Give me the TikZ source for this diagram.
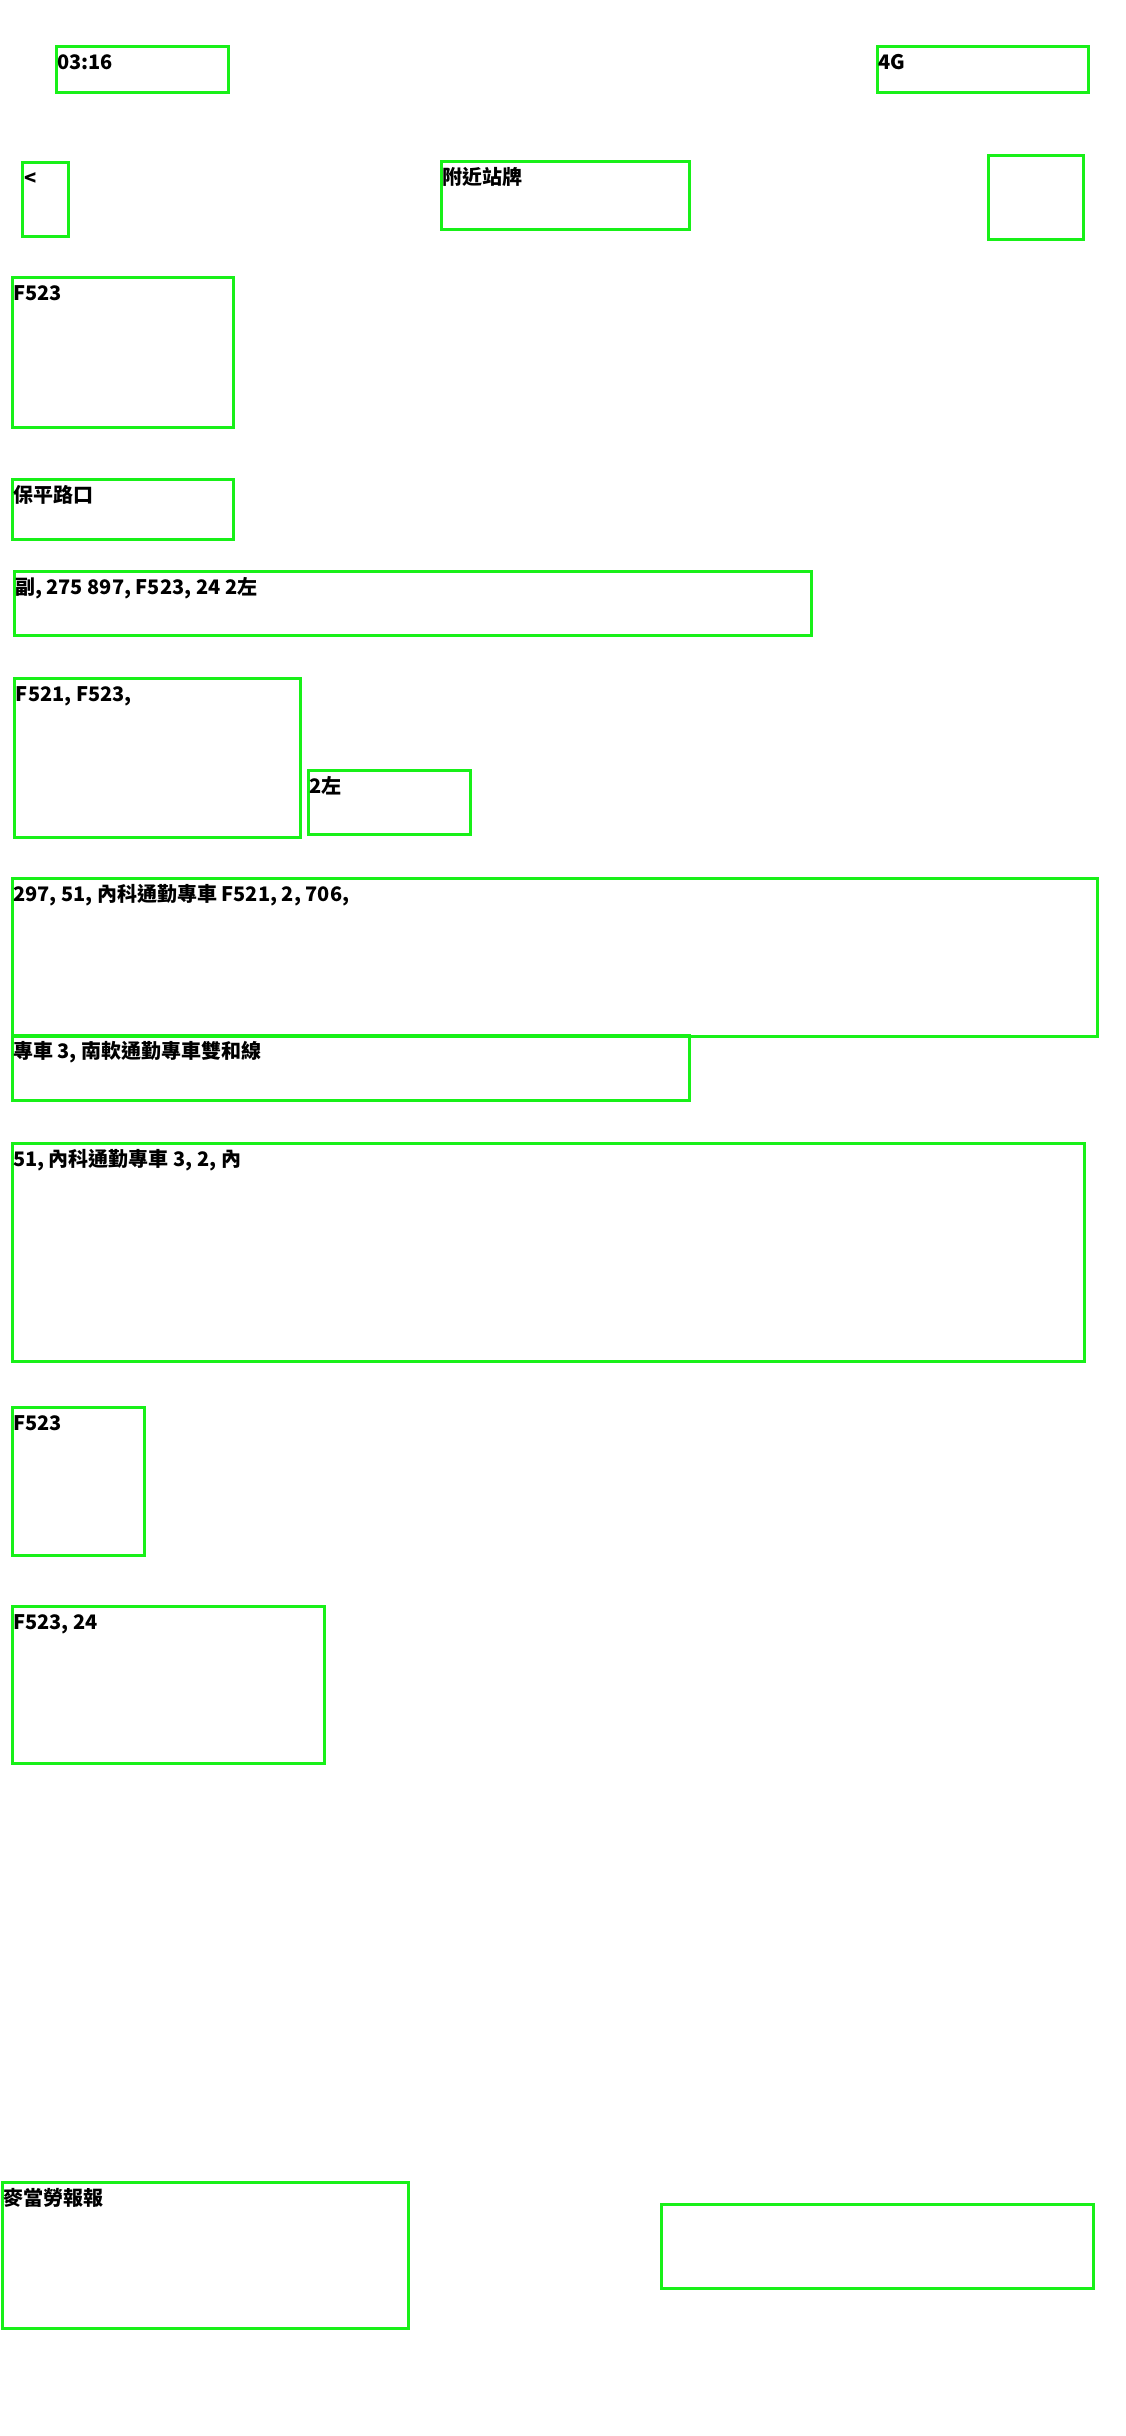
\documentclass[tikz,border=0pt]{standalone}
\usepackage{fontspec}
\setmainfont{Noto Sans CJK TC}
\definecolor{boxgreen}{RGB}{24,240,24}
\tikzset{
  box/.style={draw=boxgreen, line width=3pt, inner sep=0pt, outer sep=0pt, anchor=north west},
  lbl/.style={font=\bfseries\fontsize{20}{24}\selectfont, inner sep=0pt, outer sep=0pt, anchor=base west, text=black},
}
\begin{document}
\begin{tikzpicture}[x=1pt,y=-1pt]
\useasboundingbox[fill=white] (0,0) rectangle (1125,2436);
% boxes
\node[box, minimum width=172pt, minimum height=46pt] (clock) at (56,46) {};
\node[box, minimum width=211pt, minimum height=46pt] (net) at (877,46) {};
\node[box, minimum width=46pt, minimum height=74pt] (back) at (22,162) {};
\node[box, minimum width=248pt, minimum height=68pt] (title) at (441,161) {};
\node[box, minimum width=95pt, minimum height=84pt] (icon) at (988,155) {};
\node[box, minimum width=221pt, minimum height=150pt] (routeA) at (12,277) {};
\node[box, minimum width=221pt, minimum height=60pt] (stop) at (12,479) {};
\node[box, minimum width=797pt, minimum height=64pt] (listA) at (14,571) {};
\node[box, minimum width=286pt, minimum height=159pt] (listB) at (14,678) {};
\node[box, minimum width=162pt, minimum height=64pt] (dir) at (308,770) {};
\node[box, minimum width=1085pt, minimum height=158pt] (listC) at (12,878) {};
\node[box, minimum width=677pt, minimum height=65pt] (listD) at (12,1035) {};
\node[box, minimum width=1072pt, minimum height=218pt] (listE) at (12,1143) {};
\node[box, minimum width=132pt, minimum height=148pt] (routeB) at (12,1407) {};
\node[box, minimum width=312pt, minimum height=157pt] (routeC) at (12,1606) {};
\node[box, minimum width=406pt, minimum height=146pt] (ad) at (2,2182) {};
\node[box, minimum width=432pt, minimum height=84pt] (adr) at (661,2204) {};
% labels
\node[lbl] (clockt) at ([xshift=1pt,yshift=-23pt]clock.north west) {03:16};
\node[lbl] (nett) at ([xshift=1pt,yshift=-23pt]net.north west) {4G};
\node[lbl] (backt) at ([xshift=2pt,yshift=-23pt]back.north west) {<};
\node[lbl] (titlet) at ([xshift=1pt,yshift=-23pt]title.north west) {附近站牌};
\node[lbl] (routeAt) at ([xshift=1pt,yshift=-23pt]routeA.north west) {F523};
\node[lbl] (stopt) at ([xshift=1pt,yshift=-23pt]stop.north west) {保平路口};
\node[lbl] (listAt) at ([xshift=1pt,yshift=-23pt]listA.north west) {副, 275 897, F523, 24 2左};
\node[lbl] (listBt) at ([xshift=2pt,yshift=-23pt]listB.north west) {F521, F523,};
\node[lbl] (dirt) at ([xshift=1pt,yshift=-23pt]dir.north west) {2左};
\node[lbl] (listCt) at ([xshift=1pt,yshift=-23pt]listC.north west) {297, 51, 內科通勤專車 F521, 2, 706,};
\node[lbl] (listDt) at ([xshift=1pt,yshift=-23pt]listD.north west) {專車 3, 南軟通勤專車雙和線};
\node[lbl] (listEt) at ([xshift=1pt,yshift=-23pt]listE.north west) {51, 內科通勤專車 3, 2, 內};
\node[lbl] (routeBt) at ([xshift=1pt,yshift=-23pt]routeB.north west) {F523};
\node[lbl] (routeCt) at ([xshift=1pt,yshift=-23pt]routeC.north west) {F523, 24};
\node[lbl] (adt) at ([xshift=1pt,yshift=-23pt]ad.north west) {麥當勞報報};
\end{tikzpicture}
\end{document}
